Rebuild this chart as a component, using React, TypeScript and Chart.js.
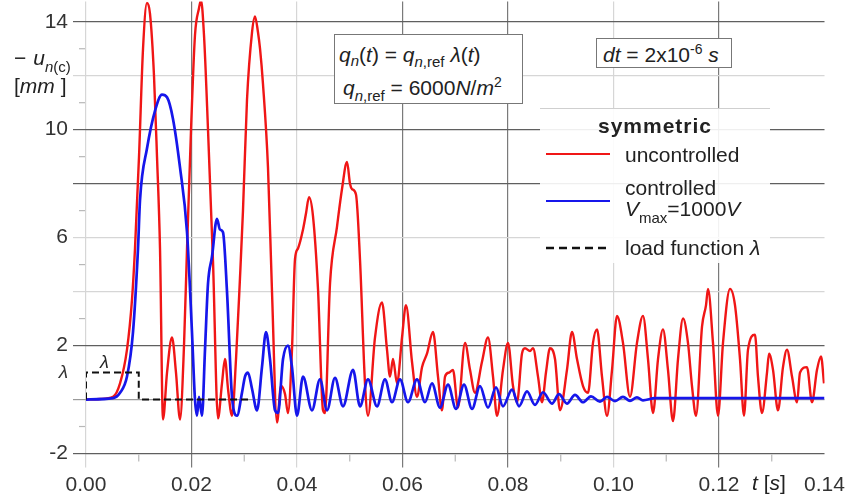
import React, { useEffect, useRef } from "react";
import { Chart, registerables } from "chart.js";

Chart.register(...registerables);

// time in milliseconds, displacement -u_n(c) in mm
const uncontrolled: [number, number][] = [
  [0, 0], [2.65, 0.02], [5.12, 0.1], [6.45, 0.6], [7.77, 1.85], [8.72, 3.7], [9.29, 5.6], [10.05, 9], [10.81, 13],
  [11.56, 14.7], [12.13, 14.3], [12.89, 12], [13.46, 9], [14.03, 5.6], [14.6, -0.74], [15.36, 1.0], [16.3, 2.3],
  [17.06, 1.0], [17.82, -0.74], [18.58, 2], [19.15, 5.6], [19.91, 10], [20.66, 13.5], [21.42, 14.5], [21.8, 14.8],
  [22.37, 13.5], [23.13, 10], [24.08, 5.1], [25.02, -0.7], [25.78, 0.6], [26.35, 1.5], [26.92, 0.4], [27.68, -0.6],
  [28.44, 1.5], [29.19, 4.5], [29.76, 7], [30.52, 11.1], [31.47, 13.6], [32.04, 14.2], [32.61, 13.6], [32.99, 13],
  [33.55, 11.7], [34.5, 8.6], [35.26, 4], [36.21, -0.85], [36.97, 0.5], [37.73, 0.2], [38.29, -0.5], [39.05, 1.85],
  [39.62, 5.2], [40.19, 5.6], [41.14, 6.3], [41.71, 6.9], [42.27, 7.5], [43.03, 6.8], [43.98, 4.1], [44.93, -0.4],
  [45.31, -0.5], [46.26, 4.3], [47.58, 6.4], [48.53, 7.8], [49.48, 8.8], [50.05, 8.0], [50.43, 7.8], [51.18, 7.6],
  [51.94, 5.2], [52.89, 0.6], [53.46, -0.6], [54.79, 2.3], [56.11, 3.6], [57.06, 1.85], [57.63, 0.85], [58.2, 1.5],
  [58.96, 0.6], [59.91, 2.3], [60.66, 3.5], [61.8, 1.4], [62.75, 0.1], [63.7, 1.2], [64.64, 1.7], [65.78, 2.5],
  [66.73, 0.85], [67.49, -0.4], [68.06, 0.85], [68.82, 1.0], [69.57, 1.1], [70.52, -0.3], [71.85, 2.1], [72.8, 1.1],
  [73.74, 0.25], [75.07, 1.4], [76.21, 2.3], [77.16, 0.85], [77.91, -0.6], [79.05, 1.1], [80.0, 2.1], [80.95, 0.5],
  [81.71, -0.1], [82.65, 1.7], [83.22, 1.9], [84.17, 1.8], [84.74, 1.9], [85.69, 0.85], [86.45, -0.1], [87.2, 1.0],
  [87.96, 1.9], [88.91, 1.5], [89.86, -0.4], [91.18, 1.1], [92.13, 2.5], [93.08, 1.5], [94.22, 0.5], [95.17, 0.25],
  [96.11, 2.1], [96.87, 2.6], [97.82, 0.85], [98.77, -0.6], [99.72, 1.1], [100.66, 3.1], [101.8, 2.1], [103.13, 0.1],
  [104.45, 2.1], [105.59, 3.1], [106.54, 1.5], [107.49, -0.5], [108.44, 1.5], [109.38, 2.6], [110.33, 1.1],
  [111.28, -0.8], [112.23, 1.5], [113.18, 3.0], [114.12, 2.1], [114.88, 0.5], [115.64, -0.6], [116.78, 2.7],
  [117.54, 3.5], [117.91, 4.1], [118.86, 2.1], [119.81, -0.6], [120.76, 2.1], [122.09, 4.1], [123.03, 3.5],
  [123.98, 1.5], [124.74, -0.6], [125.5, 1.85], [126.82, 2.4], [127.39, 0.85], [128.15, -0.5], [129.1, 1.0],
  [129.48, 1.7], [130.24, 1.1], [131.18, -0.4], [132.13, 1.2], [132.89, 1.85], [133.84, 0.85], [134.79, -0.1],
  [135.36, 1.0], [136.68, 1.2], [137.63, -0.1], [138.58, 1.1], [139.34, 1.6], [139.91, 0.6],
];

const controlled: [number, number][] = [
  [0, 0], [5.12, 0.05], [6.45, 0.25], [7.77, 0.85], [8.91, 2.5], [9.86, 5.6], [10.24, 7.4], [11.56, 9.3],
  [13.08, 10.7], [14.41, 11.3], [15.36, 11.2], [16.49, 10.4], [17.82, 8.6], [19.15, 6.2], [20.09, 2.5], [20.66, 0],
  [21.04, -0.6], [21.42, 0.1], [21.99, -0.6], [22.56, 1.85], [23.13, 4.3], [23.89, 5.3], [24.83, 6.7], [25.4, 6.3],
  [25.97, 6.2], [26.73, 4.0], [27.68, 0.1], [28.63, -0.6], [29.57, 0.25], [30.14, 0.85], [30.71, 1.0], [31.47, 0.4],
  [32.42, -0.4], [33.36, 1.2], [34.12, 2.5], [34.88, 1.5], [35.83, -0.4], [36.4, -0.5], [37.35, 1.5], [38.29, 2.0],
  [39.05, 1.2], [40.0, -0.6], [41.14, 0.85], [42.84, -0.4], [44.36, 0.75], [45.69, -0.4], [47.2, 0.8],
  [48.72, -0.25], [50.62, 1.1], [51.94, -0.25], [53.46, 0.75], [55.17, -0.25], [56.68, 0.75], [58.01, -0.1],
  [59.53, 0.75], [61.04, -0.1], [62.75, 0.75], [64.27, -0.1], [65.59, 0.6], [67.11, -0.3], [68.63, 0.55],
  [70.14, -0.35], [71.66, 0.55], [73.18, -0.35], [74.69, 0.5], [76.21, -0.3], [77.73, 0.45], [79.05, -0.25],
  [80.76, 0.37], [82.09, -0.25], [83.6, 0.3], [85.12, -0.2], [86.64, 0.27], [88.34, -0.15], [89.67, 0.2],
  [91.18, -0.15], [92.7, 0.17], [94.22, -0.1], [95.73, 0.12], [97.44, -0.08], [98.77, 0.1], [100.28, -0.06],
  [101.8, 0.1], [103.13, -0.05], [104.45, 0.08], [105.59, -0.03], [107.87, 0.05], [116.4, 0.05], [127.77, 0.05],
  [140, 0.05],
];

const loadFunction: [number, number][] = [[0, 0], [0, 1], [10, 1], [10, 0], [31, 0]];

const xTickValues = [0, 0.02, 0.04, 0.06, 0.08, 0.1, 0.12, 0.14];
const xMinorValues = [0.01, 0.03, 0.05, 0.07, 0.09, 0.11, 0.13];
const yTickValues = [-2, 0, 1, 2, 4, 6, 8, 10, 12, 14];
const yLabelledValues = [-2, 2, 6, 10, 14];
const yMinorValues = [-1, 3, 5, 7, 9, 11, 13];
const yDarkLines = [-2, 2, 8, 10, 14];
const xDarkLines = [0.02, 0.06, 0.08, 0.12];

const FONT = '"Liberation Sans", Arial, Helvetica, sans-serif';
const RED = "rgb(240,22,22)";
const BLUE = "rgb(22,22,235)";

const toPoints = (arr: [number, number][]) => arr.map(([t, u]) => ({ x: t / 1000, y: u }));
const near = (a: number, list: number[]) => list.some((v) => Math.abs(v - a) < 1e-6);

const minorTicksPlugin = {
  id: "minorTicks",
  afterDraw(chart: any) {
    const { ctx, scales, chartArea } = chart;
    ctx.save();
    ctx.strokeStyle = "#b8b8b8";
    ctx.lineWidth = 1.2;
    yMinorValues.forEach((v) => {
      const py = scales.y.getPixelForValue(v);
      ctx.beginPath();
      ctx.moveTo(chartArea.left - 7, py);
      ctx.lineTo(chartArea.left - 1, py);
      ctx.stroke();
    });
    xMinorValues.forEach((v) => {
      const px = scales.x.getPixelForValue(v);
      ctx.beginPath();
      ctx.moveTo(px, chartArea.bottom + 1);
      ctx.lineTo(px, chartArea.bottom + 8);
      ctx.stroke();
    });
    ctx.restore();
  },
};

const abs = (left: number, top: number, extra: any = {}) => ({
  position: "absolute" as const,
  left,
  top,
  font: `21px ${FONT}`,
  lineHeight: 1,
  color: "#222",
  whiteSpace: "nowrap" as const,
  ...extra,
});

const sub = (top: number, size = 15) => ({ position: "relative" as const, top, fontSize: size });

export default function App() {
  const ref = useRef<HTMLCanvasElement>(null);

  useEffect(() => {
    if (!ref.current) return;
    const chart = new Chart(ref.current, {
      type: "line",
      data: {
        datasets: [
          {
            label: "load function λ",
            data: toPoints(loadFunction),
            borderColor: "#111",
            borderWidth: 2,
            borderDash: [7, 4],
            pointRadius: 0,
            tension: 0,
          },
          {
            label: "controlled Vmax=1000V",
            data: toPoints(controlled),
            borderColor: BLUE,
            borderWidth: 2.7,
            pointRadius: 0,
            cubicInterpolationMode: "monotone",
          },
          {
            label: "uncontrolled",
            data: toPoints(uncontrolled),
            borderColor: RED,
            borderWidth: 2.4,
            pointRadius: 0,
            cubicInterpolationMode: "monotone",
          },
        ],
      },
      options: {
        animation: false,
        responsive: false,
        maintainAspectRatio: false,
        devicePixelRatio: 1,
        layout: { padding: { top: 1.5, right: 20.5, left: 0, bottom: 0 } },
        plugins: { legend: { display: false }, tooltip: { enabled: false } },
        scales: {
          x: {
            type: "linear",
            min: 0,
            max: 0.14,
            afterBuildTicks: (s: any) => {
              s.ticks = xTickValues.map((v) => ({ value: v }));
            },
            afterFit: (s: any) => {
              s.height = 48.5;
              s.paddingLeft = 0;
              s.paddingRight = 0;
            },
            border: { display: false },
            grid: {
              color: (c: any) => {
                const v = c.tick ? c.tick.value : 0;
                if (Math.abs(v - 0.14) < 1e-6) return "rgba(0,0,0,0)";
                return near(v, xDarkLines) ? "#7a7a7a" : "#d6d6d6";
              },
              lineWidth: 1.2,
              tickLength: 14,
            },
            ticks: {
              autoSkip: false,
              maxRotation: 0,
              padding: 5,
              color: "#333",
              font: { family: FONT, size: 21 },
              callback: (v: any) => Number(v).toFixed(2),
            },
          },
          y: {
            type: "linear",
            min: -2,
            max: 14.75,
            afterBuildTicks: (s: any) => {
              s.ticks = yTickValues.map((v) => ({ value: v }));
            },
            afterFit: (s: any) => {
              s.width = 86;
              s.paddingTop = 0;
              s.paddingBottom = 0;
            },
            border: { display: false },
            grid: {
              color: (c: any) => {
                const v = c.tick ? c.tick.value : 0;
                if (v === 1) return "rgba(0,0,0,0)";
                if (v === 0) return "#9a9a9a";
                return near(v, yDarkLines) ? "#5f5f5f" : "#d6d6d6";
              },
              lineWidth: 1.2,
              tickLength: 13,
            },
            ticks: {
              padding: 5,
              color: "#333",
              font: (c: any) =>
                c.tick && c.tick.value === 1
                  ? { family: FONT, size: 19, style: "italic" }
                  : { family: FONT, size: 21 },
              callback: (v: any) => (v === 1 ? "λ" : near(v, yLabelledValues) ? String(v) : ""),
            },
          },
        },
      },
      plugins: [minorTicksPlugin],
    } as any);
    return () => chart.destroy();
  }, []);

  return (
    <div style={{ position: "fixed", left: 0, top: 0, width: 845, height: 502, background: "#fff", overflow: "hidden" }}>
      <canvas ref={ref} width={845} height={502} style={{ width: 845, height: 502, display: "block" }} />

      {/* y axis title */}
      <div style={abs(14, 47)}>
        −<span style={{ marginLeft: 7 }}><i>u</i></span>
        <span style={sub(7)}>
          <i>n</i>(c)
        </span>
      </div>
      <div style={abs(14, 75)}>
        [<i>mm</i> ]
      </div>

      {/* lambda above load rectangle */}
      <div style={abs(100, 353, { fontSize: 18, fontStyle: "italic" })}>λ</div>

      {/* x axis title */}
      <div style={abs(752, 472)}>
        <i>t</i> [<i>s</i>]
      </div>

      {/* load definition box */}
      <div
        style={{
          position: "absolute",
          left: 334,
          top: 34,
          width: 187,
          height: 68,
          border: "1px solid #777",
          background: "#fff",
        }}
      />
      <div style={abs(339, 44)}>
        <i>q</i>
        <span style={sub(4)}>
          <i>n</i>
        </span>
        (<i>t</i>) = <i>q</i>
        <span style={sub(5)}>
          <i>n</i>,ref
        </span>{" "}
        <i>λ</i>(<i>t</i>)
      </div>
      <div style={abs(343, 77)}>
        <i>q</i>
        <span style={sub(6)}>
          <i>n</i>,ref
        </span>{" "}
        = 6000<i>N</i>/<i>m</i>
        <span style={sub(-8, 14)}>2</span>
      </div>

      {/* time step box */}
      <div
        style={{
          position: "absolute",
          left: 596,
          top: 38,
          width: 134,
          height: 28,
          border: "1px solid #777",
          background: "#fff",
        }}
      />
      <div style={abs(603, 44)}>
        <i>dt</i> = 2x10<span style={sub(-8, 14)}>-6</span> <i>s</i>
      </div>

      {/* legend */}
      <div
        style={{
          position: "absolute",
          left: 540,
          top: 108,
          width: 230,
          height: 154,
          background: "rgba(255,255,255,0.9)",
          borderTop: "1px solid #cfcfcf",
        }}
      />
      <div style={abs(540, 115, { width: 230, textAlign: "center", fontWeight: "bold", letterSpacing: 1 })}>symmetric</div>
      <div style={{ position: "absolute", left: 546, top: 153, width: 64, height: 0, borderTop: `2.5px solid ${RED}` }} />
      <div style={abs(625, 144)}>uncontrolled</div>
      <div style={{ position: "absolute", left: 546, top: 200, width: 64, height: 0, borderTop: `2.5px solid ${BLUE}` }} />
      <div style={abs(625, 177)}>controlled</div>
      <div style={abs(625, 198)}>
        <i>V</i>
        <span style={sub(7)}>max</span>=1000<i>V</i>
      </div>
      <svg style={{ position: "absolute", left: 546, top: 244 }} width={64} height={8}>
        <line x1={0} y1={4} x2={64} y2={4} stroke="#111" strokeWidth={2.5} strokeDasharray="8,5" />
      </svg>
      <div style={abs(625, 237)}>
        load function <i>λ</i>
      </div>
    </div>
  );
}
